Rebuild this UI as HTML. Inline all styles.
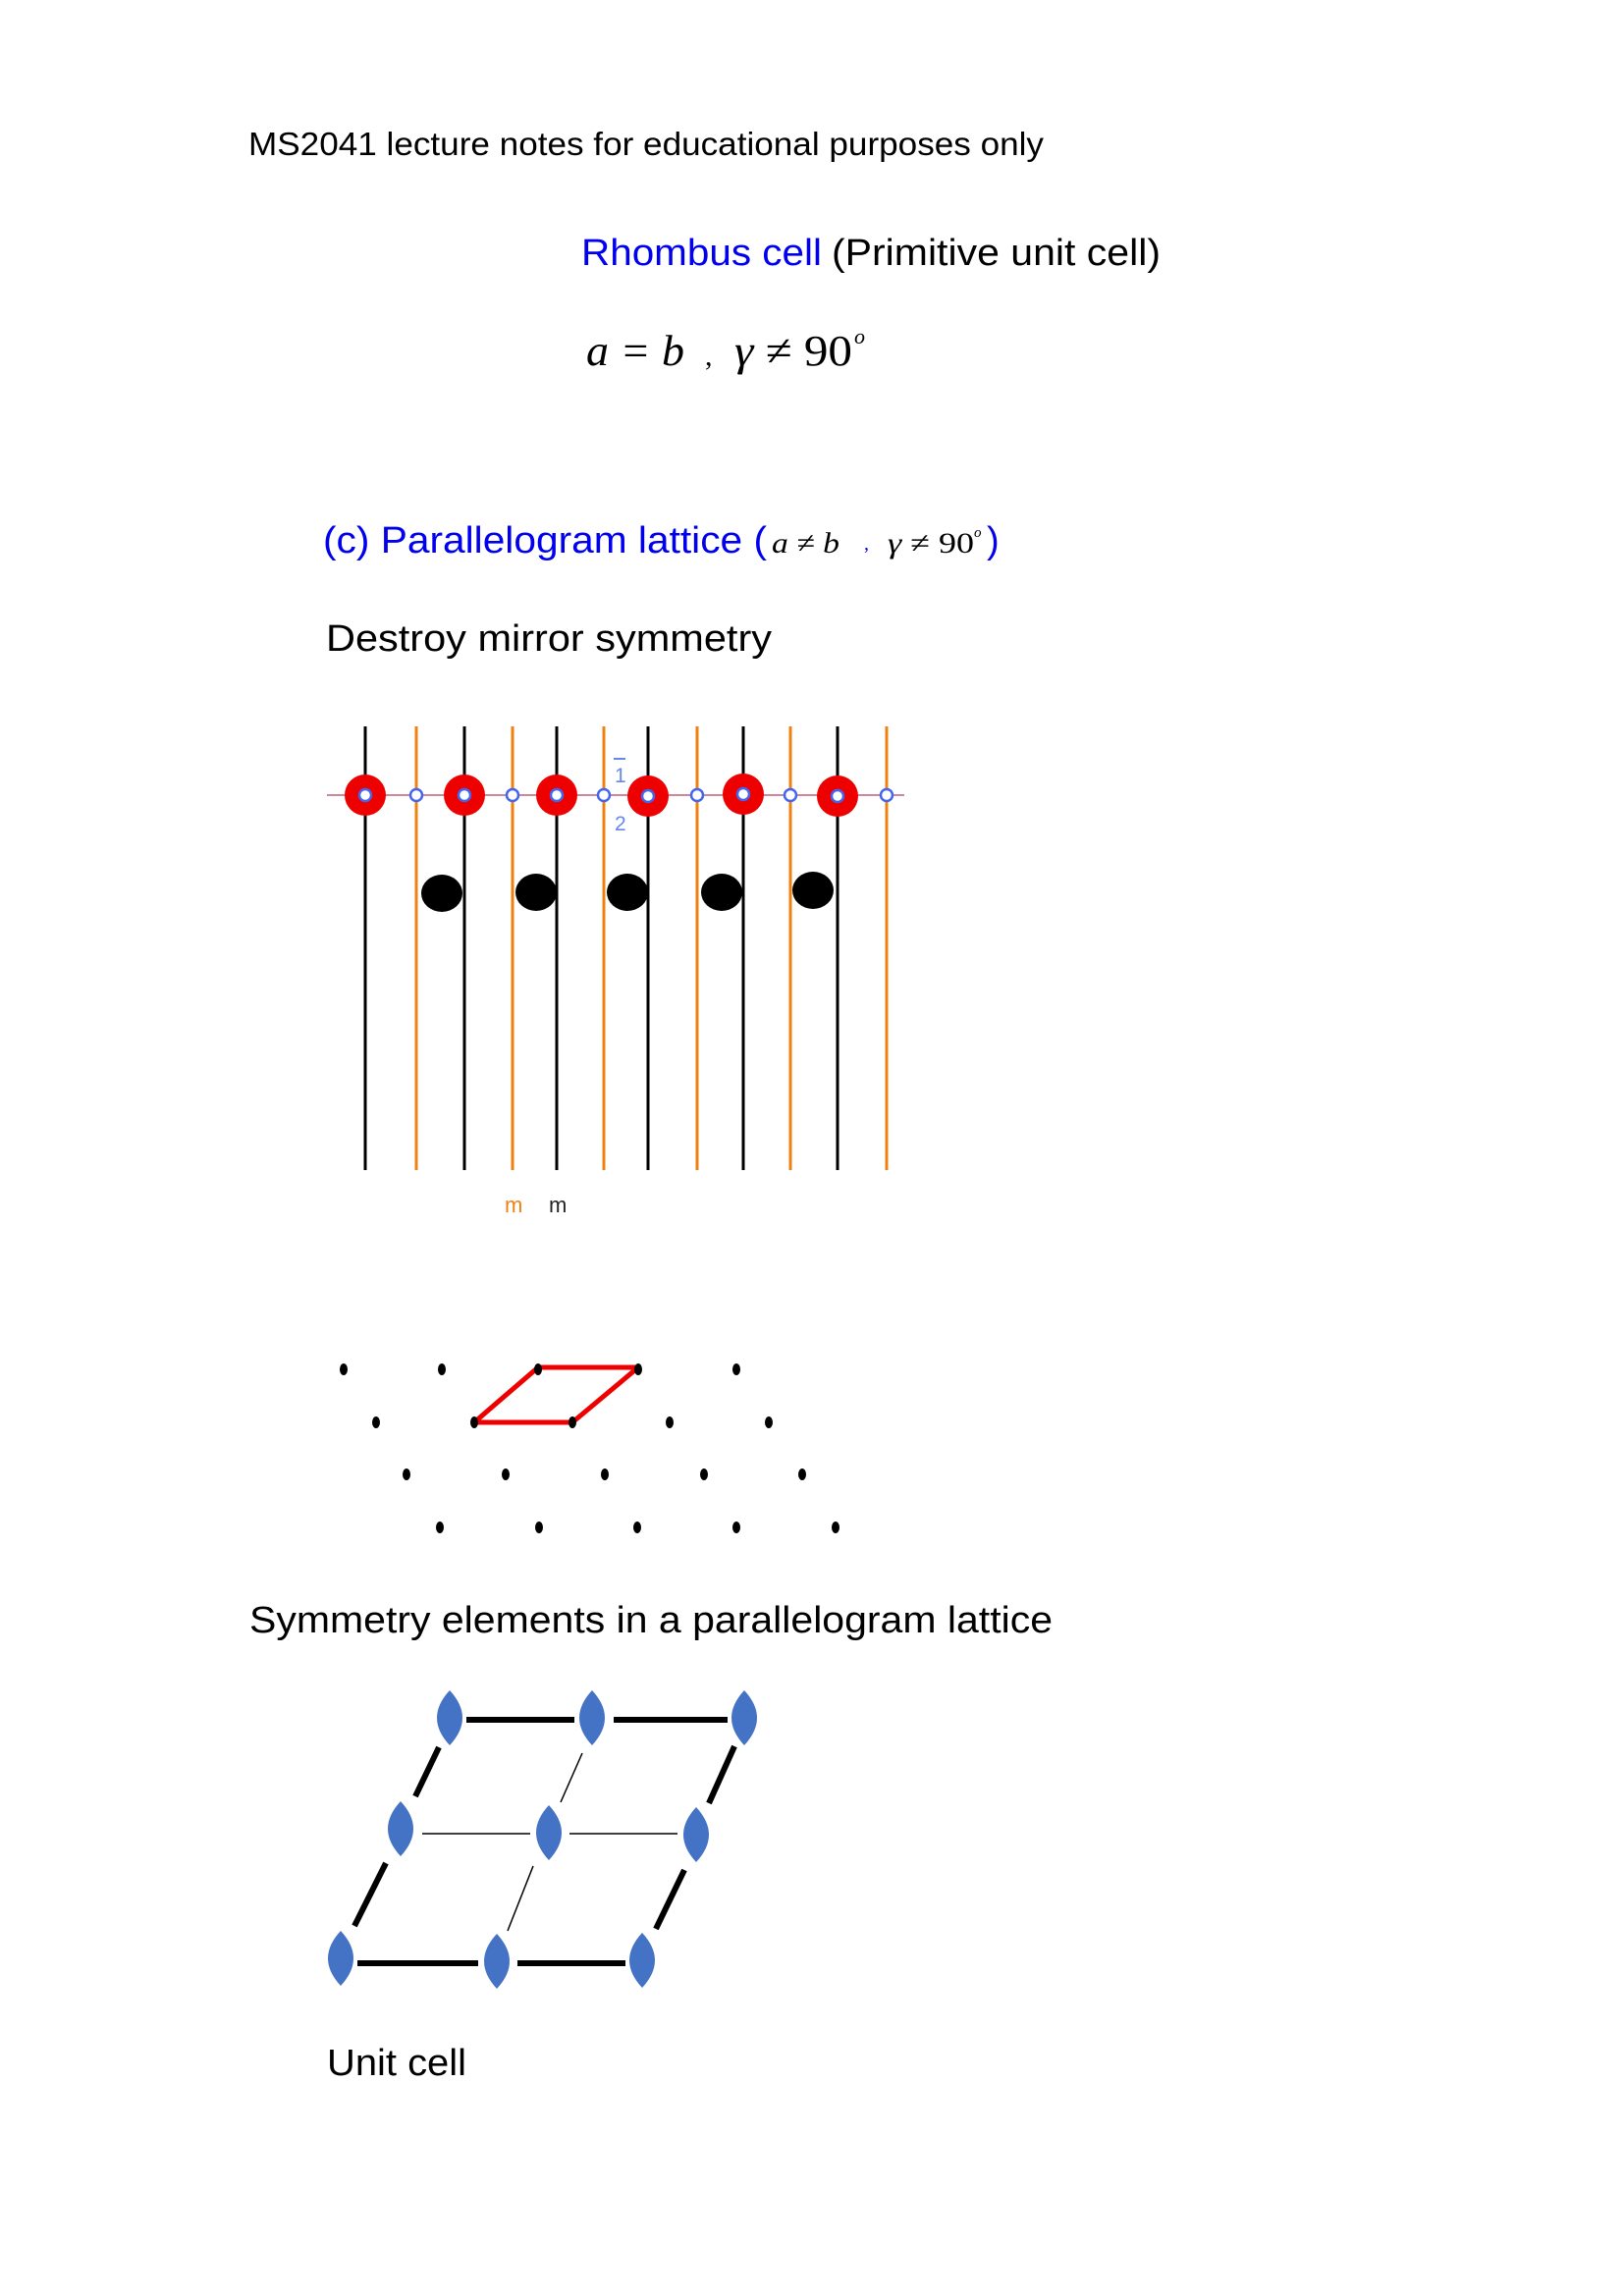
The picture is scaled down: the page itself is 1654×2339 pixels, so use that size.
<!DOCTYPE html>
<html><head><meta charset="utf-8"><style>html,body{margin:0;padding:0;background:#fff}svg{display:block}</style></head>
<body>
<svg width="1654" height="2339" viewBox="0 0 1654 2339" xmlns="http://www.w3.org/2000/svg">
<g font-family="Liberation Sans, sans-serif">
<text x="253" y="158" font-size="33" textLength="810" lengthAdjust="spacingAndGlyphs">MS2041 lecture notes for educational purposes only</text>
<text x="592" y="270" font-size="38" fill="#0000ee" textLength="245" lengthAdjust="spacingAndGlyphs">Rhombus cell</text>
<text x="847" y="270" font-size="38" textLength="335" lengthAdjust="spacingAndGlyphs">(Primitive unit cell)</text>
<text x="329" y="563" font-size="38" fill="#0000ee" textLength="452" lengthAdjust="spacingAndGlyphs">(c) Parallelogram lattice (</text>
<text x="1005" y="563" font-size="38" fill="#0000ee">)</text>
<text x="332" y="663" font-size="38" textLength="454" lengthAdjust="spacingAndGlyphs">Destroy mirror symmetry</text>
<text x="254" y="1663" font-size="38" textLength="818" lengthAdjust="spacingAndGlyphs">Symmetry elements in a parallelogram lattice</text>
<text x="333" y="2114" font-size="38" textLength="142" lengthAdjust="spacingAndGlyphs">Unit cell</text>
</g>
<g font-family="Liberation Serif, serif">
<text x="597" y="372" font-size="44" font-style="italic" textLength="100" lengthAdjust="spacingAndGlyphs">a = b</text>
<text x="718" y="372" font-size="30">,</text>
<text x="748" y="372" font-size="44" textLength="120" lengthAdjust="spacingAndGlyphs"><tspan font-style="italic">γ</tspan> ≠ 90</text>
<text x="870" y="350" font-size="22" font-style="italic">o</text>
<text x="786" y="563" font-size="30" font-style="italic" textLength="69" lengthAdjust="spacingAndGlyphs">a ≠ b</text>
<text x="880" y="560" font-size="20" fill="#0000ee">,</text>
<text x="904" y="563" font-size="30" textLength="88" lengthAdjust="spacingAndGlyphs"><tspan font-style="italic">γ</tspan> ≠ 90</text>
<text x="992" y="547" font-size="15" font-style="italic">o</text>
</g>

<g stroke-width="3">
<line x1="372" y1="740" x2="372" y2="1192" stroke="#000"/>
<line x1="424" y1="740" x2="424" y2="1192" stroke="#f08010"/>
<line x1="473" y1="740" x2="473" y2="1192" stroke="#000"/>
<line x1="522" y1="740" x2="522" y2="1192" stroke="#f08010"/>
<line x1="567" y1="740" x2="567" y2="1192" stroke="#000"/>
<line x1="615" y1="740" x2="615" y2="1192" stroke="#f08010"/>
<line x1="660" y1="740" x2="660" y2="1192" stroke="#000"/>
<line x1="710" y1="740" x2="710" y2="1192" stroke="#f08010"/>
<line x1="757" y1="740" x2="757" y2="1192" stroke="#000"/>
<line x1="805" y1="740" x2="805" y2="1192" stroke="#f08010"/>
<line x1="853" y1="740" x2="853" y2="1192" stroke="#000"/>
<line x1="903" y1="740" x2="903" y2="1192" stroke="#f08010"/>
</g>
<line x1="333" y1="810" x2="921" y2="810" stroke="#d08898" stroke-width="2"/>
<g fill="#ee0000">
<circle cx="372" cy="810" r="21"/><circle cx="473" cy="810" r="21"/><circle cx="567" cy="810" r="21"/>
<circle cx="660" cy="811" r="21"/><circle cx="757" cy="809" r="21"/><circle cx="853" cy="811" r="21"/>
</g>
<g fill="#fff" stroke="#4466ee" stroke-width="2.5">
<circle cx="372" cy="810" r="6"/><circle cx="473" cy="810" r="6"/><circle cx="567" cy="810" r="6"/>
<circle cx="660" cy="811" r="6"/><circle cx="757" cy="809" r="6"/><circle cx="853" cy="811" r="6"/>
<circle cx="424" cy="810" r="6"/><circle cx="522" cy="810" r="6"/><circle cx="615" cy="810" r="6"/>
<circle cx="710" cy="810" r="6"/><circle cx="805" cy="810" r="6"/><circle cx="903" cy="810" r="6"/>
</g>
<g fill="#000">
<ellipse cx="450" cy="910" rx="21" ry="19"/><ellipse cx="546" cy="909" rx="21" ry="19"/>
<ellipse cx="639" cy="909" rx="21" ry="19"/><ellipse cx="735" cy="909" rx="21" ry="19"/>
<ellipse cx="828" cy="907" rx="21" ry="19"/>
</g>
<g font-family="Liberation Sans, sans-serif" fill="#6688ee" font-size="21">
<text x="626" y="797">1</text>
<line x1="625" y1="773" x2="637" y2="773" stroke="#6688ee" stroke-width="2"/>
<text x="626" y="846">2</text>
</g>
<text x="514" y="1235" font-family="Liberation Sans, sans-serif" font-size="22" fill="#f08010">m</text>
<text x="559" y="1235" font-family="Liberation Sans, sans-serif" font-size="22" fill="#222">m</text>

<polygon points="548,1393 650,1393 583,1449 483,1449" fill="none" stroke="#ee0000" stroke-width="5" stroke-linejoin="round"/>
<g fill="#000">
<ellipse cx="350" cy="1395" rx="4" ry="6"/><ellipse cx="450" cy="1395" rx="4" ry="6"/><ellipse cx="548" cy="1395" rx="4" ry="6"/><ellipse cx="650" cy="1395" rx="4" ry="6"/><ellipse cx="750" cy="1395" rx="4" ry="6"/>
<ellipse cx="383" cy="1449" rx="4" ry="6"/><ellipse cx="483" cy="1449" rx="4" ry="6"/><ellipse cx="583" cy="1449" rx="4" ry="6"/><ellipse cx="682" cy="1449" rx="4" ry="6"/><ellipse cx="783" cy="1449" rx="4" ry="6"/>
<ellipse cx="414" cy="1502" rx="4" ry="6"/><ellipse cx="515" cy="1502" rx="4" ry="6"/><ellipse cx="616" cy="1502" rx="4" ry="6"/><ellipse cx="717" cy="1502" rx="4" ry="6"/><ellipse cx="817" cy="1502" rx="4" ry="6"/>
<ellipse cx="448" cy="1556" rx="4" ry="6"/><ellipse cx="549" cy="1556" rx="4" ry="6"/><ellipse cx="649" cy="1556" rx="4" ry="6"/><ellipse cx="750" cy="1556" rx="4" ry="6"/><ellipse cx="851" cy="1556" rx="4" ry="6"/>
</g>

<g stroke="#000" stroke-width="6">
<line x1="475" y1="1752" x2="585" y2="1752"/><line x1="625" y1="1752" x2="741" y2="1752"/>
<line x1="364" y1="2000" x2="487" y2="2000"/><line x1="527" y1="2000" x2="637" y2="2000"/>
<line x1="447" y1="1780" x2="423" y2="1830"/><line x1="393" y1="1898" x2="361" y2="1962"/>
<line x1="748" y1="1779" x2="722" y2="1837"/><line x1="697" y1="1905" x2="668" y2="1965"/>
</g>
<g stroke="#000" stroke-width="1.5">
<line x1="430" y1="1868" x2="540" y2="1868"/><line x1="580" y1="1868" x2="690" y2="1868"/>
<line x1="593" y1="1786" x2="571" y2="1836"/><line x1="543" y1="1901" x2="517" y2="1967"/>
</g>
<g fill="#4472c4">
<path d="M458,1722 Q484,1750 458,1778 Q432,1750 458,1722Z"/>
<path d="M603,1722 Q629,1750 603,1778 Q577,1750 603,1722Z"/>
<path d="M758,1722 Q784,1750 758,1778 Q732,1750 758,1722Z"/>
<path d="M408,1835 Q434,1863 408,1891 Q382,1863 408,1835Z"/>
<path d="M559,1839 Q585,1867 559,1895 Q533,1867 559,1839Z"/>
<path d="M709,1841 Q735,1869 709,1897 Q683,1869 709,1841Z"/>
<path d="M347,1967 Q373,1995 347,2023 Q321,1995 347,1967Z"/>
<path d="M506,1970 Q532,1998 506,2026 Q480,1998 506,1970Z"/>
<path d="M654,1969 Q680,1997 654,2025 Q628,1997 654,1969Z"/>
</g>
</svg>
</body></html>
